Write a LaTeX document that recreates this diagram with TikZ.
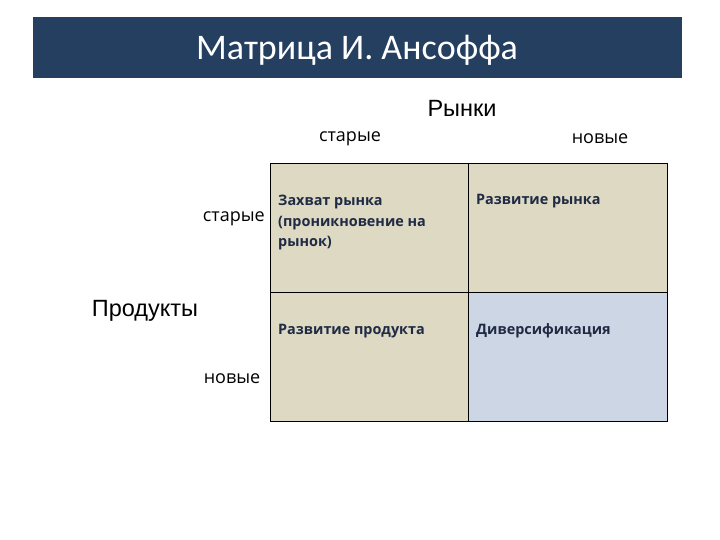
\documentclass[tikz,border=0pt]{standalone}
\usepackage{fontspec}
\setmainfont{Carlito}
\newfontfamily\arialf{Liberation Sans}
\newfontfamily\labelf{Open Sans}
\definecolor{navy}{HTML}{243F60}
\definecolor{beige}{HTML}{DDD9C3}
\definecolor{lblue}{HTML}{CCD6E4}
\definecolor{celltext}{HTML}{1F2A44}
\tikzset{
  cell/.style={draw=black, line width=1.2pt, anchor=north west, inner sep=0pt},
  celllabel/.style={anchor=west, align=left, font=\labelf\fontsize{14.4}{20.5}\selectfont\bfseries, text=celltext, inner sep=0pt},
  axislabel/.style={font=\labelf\fontsize{18}{20}\selectfont, inner sep=0pt},
  biglabel/.style={font=\arialf\fontsize{23.5}{26}\selectfont, inner sep=0pt}
}
\begin{document}
\begin{tikzpicture}[x=1pt,y=-1pt]
\useasboundingbox (0,0) rectangle (720,540);
\fill[white] (0,0) rectangle (720,540);
\node[fill=navy, minimum width=649pt, minimum height=61pt, anchor=north west, inner sep=0pt] (bar) at (33,17) {};
\node[text=white, font=\fontsize{36}{40}\selectfont, inner sep=0pt] (title) at (357,50) {Матрица И. Ансоффа};
\node[cell, fill=beige, minimum width=198pt, minimum height=129pt] (c11) at (270,163) {};
\node[cell, fill=beige, minimum width=199pt, minimum height=129pt] (c12) at (468,163) {};
\node[cell, fill=beige, minimum width=198pt, minimum height=129pt] (c21) at (270,292) {};
\node[cell, fill=lblue, minimum width=199pt, minimum height=129pt] (c22) at (468,292) {};
\node[celllabel] (t11) at (278,223) {Захват рынка\\(проникновение на\\рынок)};
\node[celllabel] (t12) at (476,201) {Развитие рынка};
\node[celllabel] (t21) at (278,331) {Развитие продукта};
\node[celllabel] (t22) at (476,331) {Диверсификация};
\node[biglabel] (markets) at (462,108) {Рынки};
\node[axislabel] (mold) at (350,139) {старые};
\node[axislabel] (mnew) at (600,139) {новые};
\node[biglabel] (products) at (145,311) {Продукты};
\node[axislabel, anchor=east] (pold) at (265,219) {старые};
\node[axislabel] (pnew) at (232,379) {новые};
\end{tikzpicture}
\end{document}
